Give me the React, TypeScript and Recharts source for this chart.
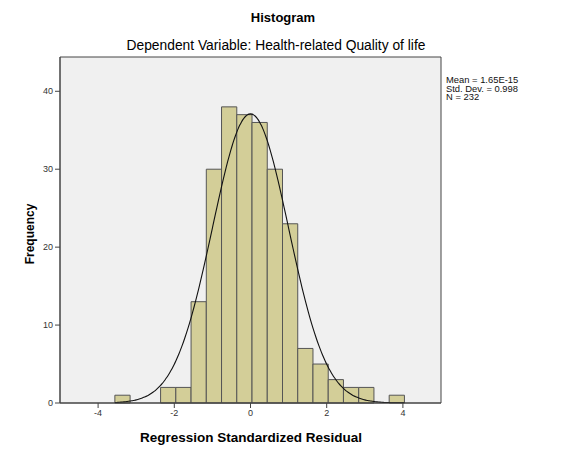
import React from 'react';
import { ComposedChart, XAxis, YAxis, Line, ReferenceArea, CartesianGrid } from 'recharts';

// Histogram bins (left/right edges) and frequency per bin
const binEdges = [
  -3.56, -3.16, -2.76, -2.36, -1.96, -1.56, -1.16, -0.76, -0.36, 0.04,
  0.44, 0.84, 1.24, 1.64, 2.04, 2.44, 2.84, 3.24, 3.64, 4.04,
];
const binCounts = [1, 0, 0, 2, 2, 13, 30, 38, 37, 36, 30, 23, 7, 5, 3, 2, 2, 0, 1];

const xTicks = [-4, -2, 0, 2, 4];
const yTicks = [0, 10, 20, 30, 40];

// Summary statistics shown next to the plot
const residualMean = 1.65e-15;
const residualSd = 0.998;
const residualN = 232;
const statLines = ['Mean = 1.65E-15', 'Std. Dev. = 0.998', 'N = 232'];

const FONT = "Arial, 'Liberation Sans', sans-serif";

// Fitted normal curve scaled to the histogram's counts
const binWidth = binEdges[1] - binEdges[0];
const curveData: { x: number; y: number }[] = [];
for (let i = 0; i <= 190; i++) {
  const x = binEdges[0] + i * 0.04;
  const z = (x - residualMean) / residualSd;
  const y = (residualN * binWidth) / (residualSd * Math.sqrt(2 * Math.PI)) * Math.exp(-0.5 * z * z);
  curveData.push({ x, y });
}

const bins = binCounts.map((count, i) => ({ x1: binEdges[i], x2: binEdges[i + 1], count }));

export default function App() {
  return (
    <div style={{ position: 'absolute', left: 0, top: 0, width: 573, height: 453, background: '#fff' }}>
      <ComposedChart
        width={573}
        height={453}
        margin={{ top: 57, right: 132, bottom: 30, left: 30 }}
      >
        <CartesianGrid horizontal={false} vertical={false} fill="#f0f0f0" />
        <XAxis
          type="number"
          dataKey="x"
          domain={[-5, 5]}
          ticks={xTicks}
          allowDataOverflow
          height={20}
          tickSize={5}
          tickMargin={2}
          stroke="#444"
          tick={{ fill: '#333', fontSize: 9, fontFamily: FONT }}
        />
        <YAxis
          type="number"
          domain={[0, 44.4]}
          ticks={yTicks}
          allowDataOverflow
          width={30}
          tickSize={5}
          tickMargin={2}
          stroke="#444"
          tick={{ fill: '#333', fontSize: 9, fontFamily: FONT }}
        />
        {bins.map((b, i) =>
          b.count > 0 ? (
            <ReferenceArea
              key={i}
              x1={b.x1}
              x2={b.x2}
              y1={0}
              y2={b.count}
              fill="#d3ce98"
              fillOpacity={1}
              stroke="#555"
              strokeWidth={1}
              ifOverflow="visible"
            />
          ) : null
        )}
        <ReferenceArea
          x1={-5}
          x2={5}
          y1={0}
          y2={44.4}
          fill="none"
          stroke="#444"
          strokeWidth={1}
          ifOverflow="visible"
        />
        <Line
          data={curveData}
          dataKey="y"
          type="monotone"
          stroke="#111"
          strokeWidth={1.1}
          dot={false}
          activeDot={false}
          isAnimationActive={false}
        />
        <text x={283} y={22} textAnchor="middle" fontFamily={FONT} fontWeight="bold" fontSize={13} fill="#000">
          Histogram
        </text>
        <text x={276} y={50} textAnchor="middle" fontFamily={FONT} fontSize={13.8} fill="#000">
          Dependent Variable: Health-related Quality of life
        </text>
        <text x={251} y={442} textAnchor="middle" fontFamily={FONT} fontWeight="bold" fontSize={13.5} fill="#000">
          Regression Standardized Residual
        </text>
        <text
          x={34}
          y={234}
          textAnchor="middle"
          fontFamily={FONT}
          fontWeight="bold"
          fontSize={12}
          fill="#000"
          transform="rotate(-90 34 234)"
        >
          Frequency
        </text>
        {statLines.map((s, i) => (
          <text key={s} x={446} y={83 + i * 8.6} fontFamily={FONT} fontSize={9.4} fill="#111">
            {s}
          </text>
        ))}
      </ComposedChart>
    </div>
  );
}
